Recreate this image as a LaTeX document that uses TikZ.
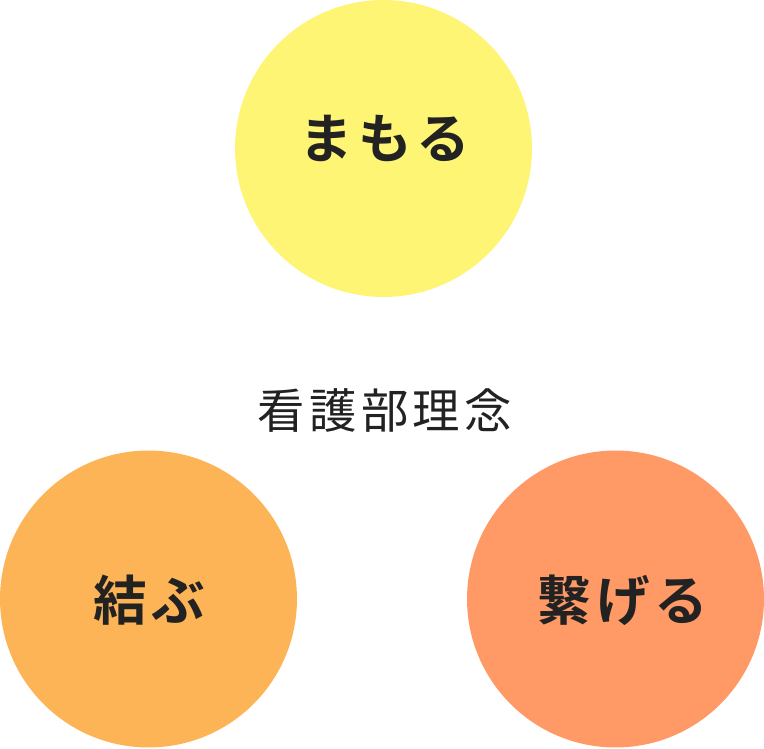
\documentclass[tikz,border=0pt]{standalone}
\usepackage{fontspec}
\usepackage{xcolor}
\newfontfamily\jpfont[LetterSpace=9]{Noto Sans CJK JP}
\newfontfamily\jpbold[LetterSpace=9]{Noto Sans CJK JP Bold}
\definecolor{mamoruyellow}{HTML}{FFF574}
\definecolor{musubuorange}{HTML}{FCB456}
\definecolor{tsunageruorange}{HTML}{FF9966}
\definecolor{textgray}{HTML}{222222}
\tikzset{
  ideal/.style={circle,inner sep=0pt,minimum size=5.94cm,text=textgray,
    text height=0.84em,text depth=0.16em,
    font=\jpbold\fontsize{30.5}{30.5}\selectfont},
}

\begin{document}
\begin{tikzpicture}[x=0.02cm,y=0.02cm]
\useasboundingbox (0,0) rectangle (764,748);
\node[ideal,fill=mamoruyellow] (mamoru) at (383.5,599.5) {\hspace*{0.06cm}\raisebox{-0.08cm}{まもる}};
\node[ideal,fill=musubuorange] (musubu) at (148.5,149) {\hspace*{0.04cm}\raisebox{-0.32cm}{結ぶ}};
\node[ideal,fill=tsunageruorange] (tsunageru) at (615.5,149) {\hspace*{0.3cm}\raisebox{-0.32cm}{繋げる}};
\node[text=textgray,font=\jpfont\fontsize{27}{27}\selectfont] (rinen) at (385,338) {看護部理念};
\end{tikzpicture}
\end{document}
